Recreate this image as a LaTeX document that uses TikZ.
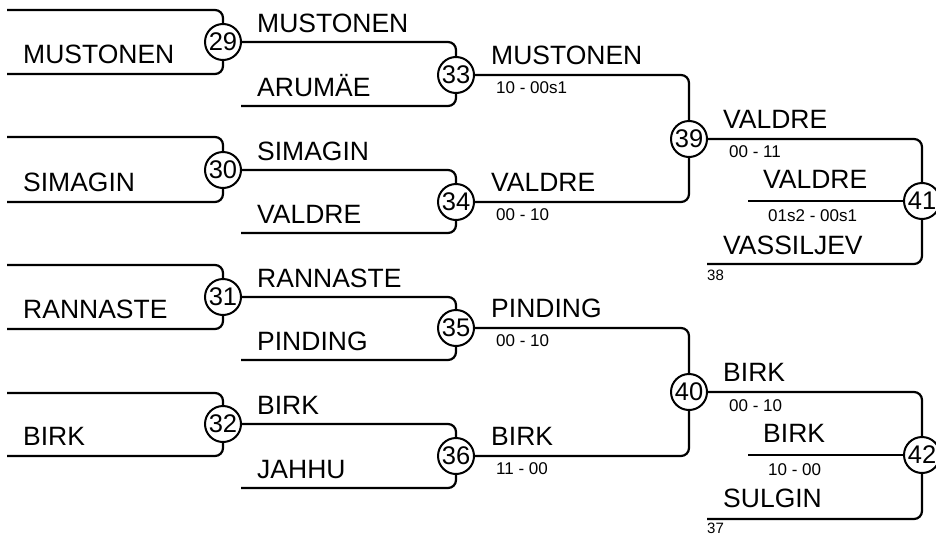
\documentclass[tikz,border=0pt]{standalone}
\usepackage{fontspec}
\setmainfont{Liberation Sans}
\begin{document}
\begin{tikzpicture}[x=1pt, y=-1pt,
    linea/.style={line width=2.2pt, rounded corners=8pt},
    incontro/.style={circle, draw, line width=2pt, fill=white, minimum size=36pt,
        inner sep=0pt, font=\fontsize{25.5}{25.5}\selectfont},
    nome/.style={anchor=base west, inner sep=0pt, font=\fontsize{26.5}{26.5}\selectfont},
    punti/.style={anchor=base west, inner sep=0pt, font=\fontsize{17}{17}\selectfont},
    testa/.style={anchor=base west, inner sep=0pt, font=\fontsize{15}{15}\selectfont}]

    \useasboundingbox (0,0) rectangle (936,533);

    % Incontri
    \node[incontro] (m29) at (223,42)  {29};
    \node[incontro] (m30) at (223,170) {30};
    \node[incontro] (m31) at (223,297) {31};
    \node[incontro] (m32) at (223,424) {32};
    \node[incontro] (m33) at (456,75)  {33};
    \node[incontro] (m34) at (456,202) {34};
    \node[incontro] (m35) at (456,328) {35};
    \node[incontro] (m36) at (456,456) {36};
    \node[incontro] (m39) at (689,139) {39};
    \node[incontro] (m40) at (689,392) {40};
    \node[incontro] (m41) at (922,201) {41};
    \node[incontro] (m42) at (922,455) {42};

    % Inizio delle linee
    \coordinate (a29) at (7,10);   \coordinate (b29) at (7,74);
    \coordinate (a30) at (7,137);  \coordinate (b30) at (7,202);
    \coordinate (a31) at (7,265);  \coordinate (b31) at (7,329);
    \coordinate (a32) at (7,393);  \coordinate (b32) at (7,456);
    \coordinate (b33) at (241,106);
    \coordinate (b34) at (241,233);
    \coordinate (b35) at (241,360);
    \coordinate (b36) at (241,488);
    \coordinate (c41) at (748,201); \coordinate (b41) at (707,264);
    \coordinate (c42) at (748,455); \coordinate (b42) at (707,519);

    % Primo turno
    \node[nome] (n29) at (23,63)  {MUSTONEN};
    \node[nome] (n30) at (23,191) {SIMAGIN};
    \node[nome] (n31) at (23,318) {RANNASTE};
    \node[nome] (n32) at (23,445) {BIRK};

    % Secondo turno
    \node[nome] (n33a) at (257,32)  {MUSTONEN};
    \node[nome] (n33b) at (257,96)  {ARUMÄE};
    \node[nome] (n34a) at (257,160) {SIMAGIN};
    \node[nome] (n34b) at (257,223) {VALDRE};
    \node[nome] (n35a) at (257,287) {RANNASTE};
    \node[nome] (n35b) at (257,350) {PINDING};
    \node[nome] (n36a) at (257,414) {BIRK};
    \node[nome] (n36b) at (257,478) {JAHHU};

    % Vincitori e punteggi
    \node[nome]  (w33) at (491,64)  {MUSTONEN};
    \node[punti] (r33) at (496,93)  {10 - 00s1};
    \node[nome]  (w34) at (491,191) {VALDRE};
    \node[punti] (r34) at (496,220) {00 - 10};
    \node[nome]  (w35) at (491,317) {PINDING};
    \node[punti] (r35) at (496,346) {00 - 10};
    \node[nome]  (w36) at (491,445) {BIRK};
    \node[punti] (r36) at (496,474) {11 - 00};

    % Finali
    \node[nome]  (w39) at (723,128) {VALDRE};
    \node[punti] (r39) at (729,157) {00 - 11};
    \node[nome]  (w41) at (763,188) {VALDRE};
    \node[punti] (r41) at (768,221) {01s2 - 00s1};
    \node[nome]  (n41) at (723,254) {VASSILJEV};
    \node[testa] (s41) at (707,280) {38};
    \node[nome]  (w40) at (723,381) {BIRK};
    \node[punti] (r40) at (729,411) {00 - 10};
    \node[nome]  (w42) at (763,442) {BIRK};
    \node[punti] (r42) at (768,475) {10 - 00};
    \node[nome]  (n42) at (723,507) {SULGIN};
    \node[testa] (s42) at (707,533) {37};

    % Linee del tabellone
    \draw[linea] (a29) -| (m29);
    \draw[linea] (b29) -| (m29);
    \draw[linea] (a30) -| (m30);
    \draw[linea] (b30) -| (m30);
    \draw[linea] (a31) -| (m31);
    \draw[linea] (b31) -| (m31);
    \draw[linea] (a32) -| (m32);
    \draw[linea] (b32) -| (m32);

    \draw[linea] (m29) -| (m33);
    \draw[linea] (b33) -| (m33);
    \draw[linea] (m30) -| (m34);
    \draw[linea] (b34) -| (m34);
    \draw[linea] (m31) -| (m35);
    \draw[linea] (b35) -| (m35);
    \draw[linea] (m32) -| (m36);
    \draw[linea] (b36) -| (m36);

    \draw[linea] (m33) -| (m39);
    \draw[linea] (m34) -| (m39);
    \draw[linea] (m35) -| (m40);
    \draw[linea] (m36) -| (m40);

    \draw[linea] (m39) -| (m41);
    \draw[linea] (c41) -- (m41);
    \draw[linea] (b41) -| (m41);
    \draw[linea] (m40) -| (m42);
    \draw[linea] (c42) -- (m42);
    \draw[linea] (b42) -| (m42);

\end{tikzpicture}
\end{document}
